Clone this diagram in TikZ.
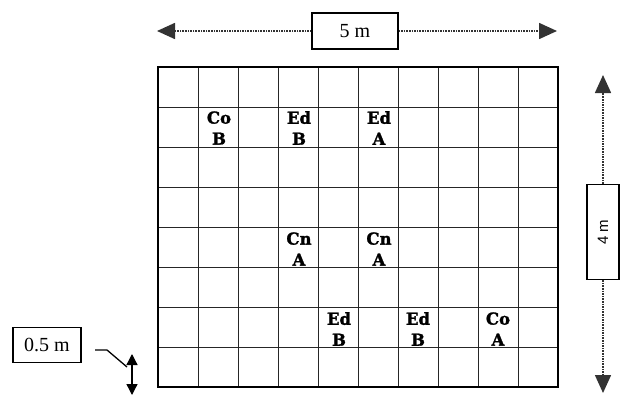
\documentclass[tikz,border=0pt]{standalone}
\usepackage{fontspec}
\setmainfont{Liberation Serif}
\newfontfamily\labfont[BoldFeatures={FakeBold=1.6}]{DejaVu Serif}
\newfontfamily\sansf{Liberation Sans}
\usetikzlibrary{arrows.meta}
\begin{document}
\begin{tikzpicture}[x=1pt,y=-1pt,
  gridline/.style={draw=black!85, line width=1pt},
  border/.style={draw=black, line width=1.5pt},
  lab/.style={align=center, inner sep=0pt, font=\labfont\bfseries\fontsize{16.5}{21}\selectfont},
  dimbox/.style={draw=black, line width=1.3pt, fill=white, inner sep=0pt, font=\fontsize{20}{22}\selectfont},
  dimarrow/.style={draw=black!80, line width=1.6pt, densely dotted, -{Triangle[length=18pt,width=16pt]}},
  smallarrow/.style={draw=black, line width=1.3pt, {Triangle[length=11pt,width=11pt]}-{Triangle[length=11pt,width=11pt]}},
  leader/.style={draw=black, line width=1.3pt}]
\useasboundingbox (0,0) rectangle (620,396);
% grid
\foreach \i in {0,...,10} \draw[gridline] (158+40*\i,67) -- (158+40*\i,387);
\foreach \j in {0,...,8} \draw[gridline] (158,67+40*\j) -- (558,67+40*\j);
\draw[border] (158,67) rectangle (558,387);
% labels
\node[lab] (c1) at (219,128) {Co\\B};
\node[lab] (c2) at (299,128) {Ed\\B};
\node[lab] (c3) at (379,128) {Ed\\A};
\node[lab] (c4) at (299,249) {Cn\\A};
\node[lab] (c5) at (379,249) {Cn\\A};
\node[lab] (c6) at (339,329) {Ed\\B};
\node[lab] (c7) at (418,329) {Ed\\B};
\node[lab] (c8) at (498,329) {Co\\A};
% top dimension
\node[dimbox, minimum width=86pt, minimum height=36pt] (five) at (355,31) {5 m};
\coordinate (tl) at (157,31);
\coordinate (tr) at (557,31);
\draw[dimarrow] (five.west) -- (tl);
\draw[dimarrow] (five.east) -- (tr);
% right dimension
\node[dimbox, rotate=90, minimum width=95pt, minimum height=32pt, font=\sansf\fontsize{15}{17}\selectfont] (four) at (603,232) {4 m};
\coordinate (rt) at (603,75);
\coordinate (rb) at (603,393);
\draw[dimarrow] (four.east) -- (rt);
\draw[dimarrow] (four.west) -- (rb);
% half metre
\node[dimbox, minimum width=68pt, minimum height=35pt] (half) at (47,345) {0.5 m};
\coordinate (ls) at (95,350);
\coordinate (lk) at (107,350);
\coordinate (le) at (127,367);
\draw[leader] (ls) -- (lk) -- (le);
\coordinate (at) at (132,354);
\coordinate (ab) at (132,395);
\draw[smallarrow] (at) -- (ab);
\end{tikzpicture}
\end{document}
